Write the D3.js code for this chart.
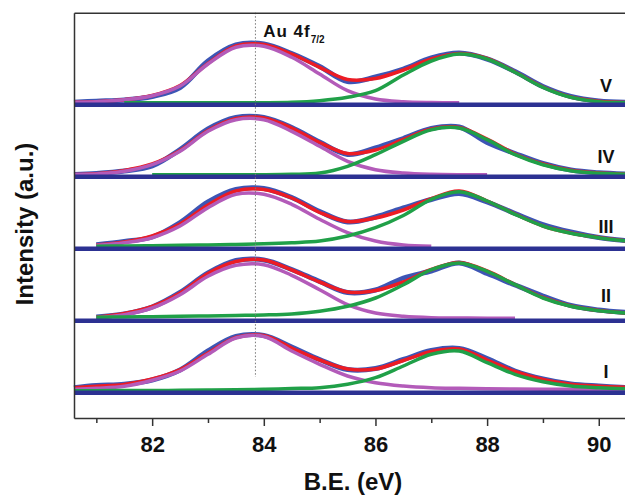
<!DOCTYPE html>
<html>
<head>
<meta charset="utf-8">
<script src="https://cdn.jsdelivr.net/npm/d3@7/dist/d3.min.js"></script>
<style>
  body { margin: 0; background: #fff; }
  svg text { font-family: "Liberation Sans", Arial, sans-serif; font-weight: bold; fill: #111; }
</style>
</head>
<body>
<svg id="chart" width="625" height="498"></svg>
<script>
// binding energy grid (eV) the spectra were read at
const energies = [80.6, 81, 81.5, 82, 82.5, 83, 83.5, 84, 84.5, 85, 85.5, 86, 86.5, 87, 87.5, 88, 88.5, 89, 89.5, 90, 90.5];

const xTicks = [82, 84, 86, 88, 90];
const xMinorTicks = [81, 83, 85, 87, 89];
const sampleNames = ["I", "II", "III", "IV", "V"];
const panelStep = 72; // vertical offset between stacked spectra (a.u.)

// sample I
const measI = [3.3, 5.5, 6.8, 11, 21, 40, 54.5, 55.5, 44, 31.5, 21.5, 22.5, 31.5, 40.5, 42.5, 32.5, 20, 12, 7, 5, 3.5];
const fitI  = [3.3, 4.7, 6.5, 12, 21.5, 38, 53.5, 55.5, 43, 31, 22, 22, 30.5, 39.5, 42, 31, 19.5, 11.5, 6.7, 4.7, 3.7];
const f72I  = [1.7, 2.7, 4.7, 10.7, 20, 36.7, 53, 54.5, 40, 26.7, 15, 8.3, 5, 3.3, 2.7, 2.3, 2, 1.7, 1.7, 1.3, 1.3];
const f52I  = [0.3, 0.3, 0.5, 0.5, 0.7, 1, 1.3, 1.7, 2.5, 3.3, 6.7, 13.3, 25, 36.7, 40, 28.3, 16.7, 9.3, 5, 3.3, 2.3];

// sample II
const measII = [null, 2, 5, 12, 26.5, 46, 58.5, 59, 49.5, 37.5, 26.5, 29, 41, 48, 56, 45.5, 34, 23, 13.5, 9, 6.5];
const fitII  = [null, 1.7, 5.5, 12.5, 26, 45.5, 57.5, 59, 49, 37, 27, 28.5, 37, 49.5, 56.5, 48, 34.5, 21.5, 13, 8.5, 6];
const f72II  = [null, 1.3, 4.3, 11, 24.3, 42.7, 53.7, 54.3, 43.7, 29.3, 14.3, 6, 2.7, 1.3, 1, 0.7, 0.7, null, null, null, null];
const f52II  = [null, 1.7, 2, 2.3, 2.7, 3, 3.5, 4, 5, 7.7, 12.7, 21, 34.3, 49.3, 56, 47.7, 34.3, 21, 12.7, 8.3, 6];

// sample III
const measIII = [null, 2.2, 5.5, 10, 24.5, 45, 57.5, 58.5, 49.5, 35.5, 25, 30, 39, 47.5, 53.5, 45, 33.5, 22.5, 15, 9.5, 6.3];
const fitIII  = [null, 2, 5, 11, 23, 42, 56, 57.5, 49, 34.5, 25.5, 29, 37, 48.3, 56, 46, 33, 21, 14, 9.5, 6];
const f72III  = [null, 1.7, 4.3, 9.3, 21, 39.3, 52.7, 52.7, 42.7, 27.7, 14.3, 6, 2, 0.7, null, null, null, null, null, null, null];
const f52III  = [null, 0.8, 1, 1.3, 1.7, 2, 2.5, 3.2, 4.3, 6, 11, 19.3, 31.5, 47.7, 55.3, 46, 32.7, 21, 13.7, 9.3, 6];

// sample IV
const measIV = [0.5, 1.5, 4, 9, 25.5, 46, 57.5, 57.5, 47.5, 33, 20.5, 27, 36.5, 46.5, 48, 32.5, 21.5, 11.5, 5, 2.2, 1];
const fitIV  = [0.5, 1.3, 4.5, 11, 24.5, 44.5, 56.5, 57, 47, 32.5, 21.5, 25, 35.5, 46, 47.5, 36, 21, 11, 4.7, 2, 0.8];
const f72IV  = [0.5, 1, 3.7, 10.3, 23.7, 43.7, 55.3, 55.3, 43.7, 28.7, 13.7, 5.3, 2, 0.7, 0.3, 0.3, null, null, null, null, null];
const f52IV  = [null, null, null, 0.3, 0.3, 0.3, 0.3, 0.3, 0.7, 2, 8.7, 20.3, 33.7, 45.3, 47, 35.3, 20.3, 10.3, 4.3, 1.7, 0.7];

// sample V
const measV = [0.7, 1.8, 3, 6.5, 15.5, 42, 58, 59, 49.5, 36.5, 21.5, 26, 34, 45, 50, 44, 31.5, 16.5, 6.5, 2, 0.8];
const fitV  = [0.7, 1.3, 3.3, 7.5, 17.5, 39.5, 57, 58.5, 49, 35.7, 23.5, 24.5, 33, 44, 49.5, 44.5, 31, 16, 6, 1.7, 0.5];
const f72V  = [0.7, 1.3, 3.3, 7.3, 17, 39, 55.7, 56.7, 45.7, 29, 12.3, 4, 1.3, 0.5, 0.3, null, null, null, null, null, null];
const f52V  = [null, null, 0.2, 0.2, 0.2, 0.3, 0.3, 0.3, 0.7, 2.3, 5.7, 12.3, 28, 42, 49, 44, 30.7, 15.7, 5.7, 1.3, 0.3];

// where the roman numeral sits (eV, a.u. above its baseline)
const labelX = 90.13;
const labelLift = [13, 17, 14, 11.7, 11.3];
const peakLine = 83.85; // Au 4f7/2 position

const svg = d3.select("#chart");

let x = d3.scaleLinear().domain([80.6, 90.47]).range([74, 625]);
let y = d3.scaleLinear().domain([-27, 378.3]).range([418, 12.7]);

let panels = [
  {name: sampleNames[0], meas: measI,   fit: fitI,   p72: f72I,   p52: f52I},
  {name: sampleNames[1], meas: measII,  fit: fitII,  p72: f72II,  p52: f52II},
  {name: sampleNames[2], meas: measIII, fit: fitIII, p72: f72III, p52: f52III},
  {name: sampleNames[3], meas: measIV,  fit: fitIV,  p72: f72IV,  p52: f52IV},
  {name: sampleNames[4], meas: measV,   fit: fitV,   p72: f72V,   p52: f52V}
];

function spectrum(vals, off) {
  return energies.map((e, i) => [e, vals[i] == null ? null : vals[i] + off]);
}

let line = d3.line()
  .defined(d => d[1] != null)
  .x(d => x(d[0]))
  .y(d => y(d[1]))
  .curve(d3.curveCatmullRom.alpha(0.5));

let plot = svg.append("g");

panels.forEach(function(p, i) {
  let off = i * panelStep;
  let g = plot.append("g").attr("class", "panel-" + p.name);

  g.append("path").attr("d", line(spectrum(p.meas, off)))
    .attr("fill", "none").attr("stroke", "#3d55b5").attr("stroke-width", 5)
    .attr("stroke-linejoin", "round");
  g.append("path").attr("d", line(spectrum(p.fit, off)))
    .attr("fill", "none").attr("stroke", "#ec1c24").attr("stroke-width", 3.5);
  g.append("path").attr("d", line(spectrum(p.p72, off)))
    .attr("fill", "none").attr("stroke", "#b35bb9").attr("stroke-width", 3.5);
  g.append("path").attr("d", line(spectrum(p.p52, off)))
    .attr("fill", "none").attr("stroke", "#20a048").attr("stroke-width", 3.5);

  // baseline of the stacked spectrum
  g.append("line")
    .attr("x1", x.range()[0]).attr("x2", x.range()[1])
    .attr("y1", y(off - 1.8)).attr("y2", y(off - 1.8))
    .attr("stroke", "#2c3192").attr("stroke-width", 4.5);

  g.append("text")
    .attr("x", x(labelX)).attr("y", y(off + labelLift[i]))
    .attr("text-anchor", "middle")
    .style("font-size", "18px")
    .text(p.name);
});

// dotted marker at the Au 4f7/2 peak
plot.append("line")
  .attr("x1", x(peakLine)).attr("x2", x(peakLine))
  .attr("y1", y(378.3)).attr("y2", y(14))
  .attr("stroke", "#777").attr("stroke-width", 1)
  .attr("stroke-dasharray", "1.5,2");

let lab = svg.append("text")
  .attr("x", x(83.99)).attr("y", y(4 * panelStep + 66))
  .style("font-size", "17px").style("letter-spacing", "1px");
lab.append("tspan").text("Au 4f");
lab.append("tspan").attr("dy", 6).style("font-size", "10px").style("letter-spacing", "0px").text("7/2");

// frame
svg.append("g").attr("transform", "translate(0," + y(378.3) + ")")
  .call(d3.axisTop(x).tickValues([]).tickSizeOuter(0))
  .select(".domain").attr("stroke", "#333").attr("stroke-width", 1.5);
svg.append("g").attr("transform", "translate(" + x(80.6) + ",0)")
  .call(d3.axisLeft(y).tickValues([]).tickSizeOuter(0))
  .select(".domain").attr("stroke", "#333").attr("stroke-width", 1.5);

// x axis
let xAxis = svg.append("g").attr("transform", "translate(0," + y(-27) + ")")
  .call(d3.axisBottom(x).tickValues(xTicks).tickSize(8).tickSizeOuter(0).tickPadding(10).tickFormat(d3.format("d")));
xAxis.select(".domain").attr("stroke", "#333").attr("stroke-width", 1.5);
xAxis.selectAll(".tick line").attr("stroke", "#333").attr("stroke-width", 1.5);
xAxis.selectAll(".tick text").style("font-size", "22px").attr("fill", "#111")
  .style("font-family", "'Liberation Sans', Arial, sans-serif").style("font-weight", "bold");

let xMinor = svg.append("g").attr("transform", "translate(0," + y(-27) + ")")
  .call(d3.axisBottom(x).tickValues(xMinorTicks).tickSize(5).tickSizeOuter(0).tickFormat(""));
xMinor.select(".domain").remove();
xMinor.selectAll(".tick line").attr("stroke", "#333").attr("stroke-width", 1.5);

// axis titles
svg.append("text")
  .attr("x", 353).attr("y", 490)
  .attr("text-anchor", "middle")
  .style("font-size", "24px")
  .text("B.E. (eV)");

svg.append("text")
  .attr("transform", "translate(33,224) rotate(-90)")
  .attr("text-anchor", "middle")
  .style("font-size", "24px")
  .text("Intensity (a.u.)");
</script>
</body>
</html>
